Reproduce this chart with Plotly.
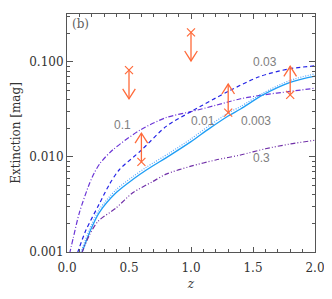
import numpy as np
import plotly.graph_objects as go

# ---- data ----
z_01 = [0.02, 0.05, 0.10, 0.18, 0.22, 0.27, 0.37, 0.59, 0.80, 1.00, 1.20, 1.40, 1.58, 1.80, 2.00]
e_01 = [0.00095, 0.0014, 0.0026, 0.0052, 0.0068, 0.0087, 0.0119, 0.0192, 0.026, 0.030, 0.035, 0.041, 0.045, 0.049, 0.053]

z_003 = [0.085, 0.153, 0.26, 0.34, 0.42, 0.60, 0.80, 1.00, 1.30, 1.55, 1.80, 2.00]
e_003 = [0.00098, 0.0017, 0.0032, 0.0051, 0.0073, 0.0118, 0.021, 0.030, 0.049, 0.070, 0.085, 0.091]

z_0003 = [0.12, 0.19, 0.26, 0.395, 0.53, 0.64, 0.83, 1.00, 1.15, 1.30, 1.40, 1.58, 1.80, 2.00]
e_0003 = [0.00098, 0.0017, 0.0026, 0.0042, 0.0058, 0.0073, 0.0104, 0.0145, 0.020, 0.027, 0.032, 0.045, 0.061, 0.071]

z_001 = [0.11, 0.18, 0.26, 0.395, 0.53, 0.64, 0.83, 1.00, 1.15, 1.30, 1.40, 1.58, 1.80, 2.00]
e_001 = [0.00098, 0.0017, 0.0028, 0.0045, 0.0062, 0.0078, 0.0111, 0.0155, 0.0215, 0.029, 0.034, 0.047, 0.064, 0.075]

z_03 = [0.12, 0.18, 0.25, 0.395, 0.53, 0.69, 0.80, 1.00, 1.20, 1.40, 1.60, 1.80, 2.00]
e_03 = [0.00098, 0.0015, 0.0021, 0.0029, 0.0042, 0.0055, 0.0066, 0.0080, 0.0093, 0.0105, 0.0122, 0.0137, 0.015]

# limits: upper limits (arrow down) and lower limits (arrow up)
z_upper = [0.5, 1.0]
e_upper = [0.082, 0.205]
z_lower = [0.6, 1.3, 1.8]
e_lower = [0.0089, 0.0293, 0.045]

curve_labels = ["0.1", "0.01", "0.003", "0.03", "0.3"]
label_z = [0.45, 1.10, 1.525, 1.60, 1.57]
label_e = [0.0217, 0.0241, 0.0241, 0.1007, 0.0097]

y_major = [0.001, 0.01, 0.1]
y_major_text = ["0.001", "0.010", "0.100"]
y_minor = [k * 10.0 ** p for p in (-3, -2, -1) for k in range(2, 10)]

# ---- style ----
ARROW_C = "#ff6a3a"
ARROW_FAC = 2.0          # arrow length factor (log)
HEAD_DEC = 0.105         # head length in decades
HEAD_HW = 0.051          # head half-width in z
SERIF = "DejaVu Serif"
AXC = "#555555"
SM = 0.8

fig = go.Figure()

fig.add_trace(go.Scatter(x=z_01, y=e_01, mode="lines",
                         line=dict(color="#6b35d6", width=1.2, dash="5px,2px,1px,2px",
                                   shape="spline", smoothing=SM)))
fig.add_trace(go.Scatter(x=z_003, y=e_003, mode="lines",
                         line=dict(color="#2323e6", width=1.2, dash="4px,3px",
                                   shape="spline", smoothing=SM)))
fig.add_trace(go.Scatter(x=z_001, y=e_001, mode="lines",
                         line=dict(color="#5aa8ff", width=1.2, dash="1px,1.5px",
                                   shape="spline", smoothing=SM)))
fig.add_trace(go.Scatter(x=z_0003, y=e_0003, mode="lines",
                         line=dict(color="#1e9ef5", width=1.3, shape="spline", smoothing=SM)))
fig.add_trace(go.Scatter(x=z_03, y=e_03, mode="lines",
                         line=dict(color="#7030a8", width=1.2, dash="5px,2px,1px,2px,1px,2px",
                                   shape="spline", smoothing=SM)))

# arrows
def add_arrow(z0, e0, up):
    fac = ARROW_FAC if up else 1.0 / ARROW_FAC
    tip = e0 * fac
    hd = 10 ** (-HEAD_DEC) if up else 10 ** HEAD_DEC
    xs = [z0, z0, None, z0 - HEAD_HW, z0, z0 + HEAD_HW]
    ys = [e0, tip, None, tip * hd, tip, tip * hd]
    fig.add_trace(go.Scatter(x=xs, y=ys, mode="lines",
                             line=dict(color=ARROW_C, width=1.3)))

for z0, e0 in zip(z_upper, e_upper):
    add_arrow(z0, e0, False)
for z0, e0 in zip(z_lower, e_lower):
    add_arrow(z0, e0, True)

fig.add_trace(go.Scatter(x=z_upper + z_lower, y=e_upper + e_lower, mode="markers",
                         marker=dict(symbol="x-thin-open", size=8, color=ARROW_C,
                                     line=dict(color=ARROW_C, width=1.2))))

for t, lx, ly in zip(curve_labels, label_z, label_e):
    fig.add_annotation(x=lx, y=np.log10(ly), text=t, showarrow=False,
                       font=dict(family="Liberation Sans", size=12, color="#808080"))

fig.add_annotation(x=0.0, y=1.0, xref="paper", yref="paper", text="(b)",
                   showarrow=False, xanchor="left", yanchor="top", xshift=3, yshift=-1,
                   font=dict(family=SERIF, size=12, color="#606060"))

axis_common = dict(showline=True, linecolor=AXC, linewidth=1, mirror="ticks",
                   ticks="inside", tickcolor=AXC, showgrid=False, zeroline=False,
                   automargin=False,
                   tickfont=dict(family=SERIF, size=12, color="#333333"))

fig.update_xaxes(range=[0, 2], tickvals=[0, 0.5, 1.0, 1.5, 2.0],
                 ticktext=["0.0", "0.5", "1.0", "1.5", "2.0"], ticklen=5,
                 ticklabelstandoff=5,
                 minor=dict(ticks="inside", dtick=0.1, ticklen=3, tickcolor=AXC),
                 title=dict(text="<i>z</i>", font=dict(family=SERIF, size=12, color="#333333"),
                            standoff=5),
                 **axis_common)
fig.update_yaxes(type="log", range=[-3.0, -0.495], tickvals=y_major,
                 ticktext=y_major_text, ticklen=6,
                 minor=dict(ticks="inside", tickvals=y_minor, ticklen=3, tickcolor=AXC),
                 title=dict(text="Extinction [mag]",
                            font=dict(family=SERIF, size=12, color="#333333"), standoff=6),
                 **axis_common)

# page body has an 8px margin, so the figure is sized to fit the window
fig.update_layout(width=324, height=291, showlegend=False,
                  margin=dict(l=59, r=17, t=6, b=47),
                  plot_bgcolor="white", paper_bgcolor="white")

fig.write_html("out.html")
